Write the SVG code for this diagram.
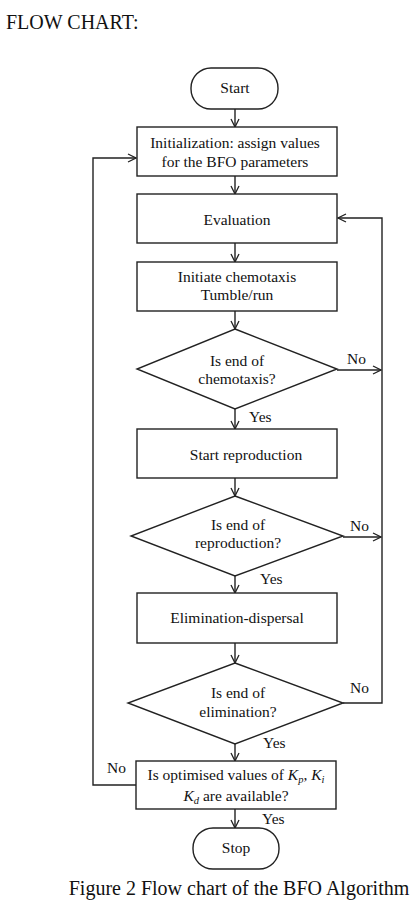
<svg xmlns="http://www.w3.org/2000/svg" width="419" height="910" viewBox="0 0 419 910">
<style>
.n{fill:#fff;stroke:#222;stroke-width:1.4}
.t{font-family:"Liberation Serif",serif;font-size:15.5px;fill:#111;text-anchor:middle}
.l{font-family:"Liberation Serif",serif;font-size:15.5px;fill:#111}
.c{fill:none;stroke:#222;stroke-width:1.4}
</style>
<defs>
<marker id="a" markerWidth="10" markerHeight="10" refX="9" refY="5" orient="auto" markerUnits="userSpaceOnUse">
<path d="M1,1 L9,5 L1,9" fill="none" stroke="#222" stroke-width="1.3"/>
</marker>
</defs>
<rect width="419" height="910" fill="#fff"/>
<text x="6" y="29" style="font-family:'Liberation Serif',serif;font-size:20px;fill:#111">FLOW CHART:</text>
<g id="connectors">
<line class="c" x1="235" y1="109" x2="235" y2="127" marker-end="url(#a)"/>
<line class="c" x1="235" y1="176" x2="235" y2="194" marker-end="url(#a)"/>
<line class="c" x1="235" y1="243" x2="235" y2="262" marker-end="url(#a)"/>
<line class="c" x1="235" y1="311" x2="235" y2="329" marker-end="url(#a)"/>
<line class="c" x1="235" y1="409" x2="235" y2="429" marker-end="url(#a)"/>
<line class="c" x1="235" y1="478" x2="235" y2="496" marker-end="url(#a)"/>
<line class="c" x1="235" y1="576" x2="235" y2="593" marker-end="url(#a)"/>
<line class="c" x1="235" y1="643" x2="235" y2="663" marker-end="url(#a)"/>
<line class="c" x1="235" y1="744" x2="235" y2="761" marker-end="url(#a)"/>
<line class="c" x1="235" y1="809" x2="235" y2="828" marker-end="url(#a)"/>
<line class="c" x1="337" y1="370" x2="381" y2="370" marker-end="url(#a)"/>
<line class="c" x1="343" y1="537" x2="381" y2="537" marker-end="url(#a)"/>
<polyline class="c" points="343,703 382,703 382,218 338,218" marker-end="url(#a)"/>
<polyline class="c" points="136,785 93,785 93,158 136,158" marker-end="url(#a)"/>
<text class="l" x="347" y="364">No</text>
<text class="l" x="350" y="531">No</text>
<text class="l" x="350" y="693">No</text>
<text class="l" x="107" y="773">No</text>
<text class="l" x="249" y="422">Yes</text>
<text class="l" x="260" y="584">Yes</text>
<text class="l" x="263" y="748">Yes</text>
<text class="l" x="262" y="824">Yes</text>
</g>
<g id="start"><rect class="n" x="191" y="68" width="87" height="41" rx="20"/><text class="t" x="235" y="93">Start</text></g>
<g id="init"><rect class="n" x="137" y="127" width="200" height="49"/><text class="t" x="235" y="148">Initialization: assign values</text><text class="t" x="235" y="167">for the BFO parameters</text></g>
<g id="eval"><rect class="n" x="137" y="194" width="200" height="49"/><text class="t" x="237" y="225">Evaluation</text></g>
<g id="chemo"><rect class="n" x="137" y="262" width="200" height="49"/><text class="t" x="237" y="282">Initiate chemotaxis</text><text class="t" x="237" y="300">Tumble/run</text></g>
<g id="d1"><polygon class="n" points="235,329 337,369 235,409 137,369"/><text class="t" x="237" y="366">Is end of</text><text class="t" x="237" y="384">chemotaxis?</text></g>
<g id="repro"><rect class="n" x="137" y="429" width="200" height="49"/><text class="t" x="246" y="460">Start reproduction</text></g>
<g id="d2"><polygon class="n" points="235,496 343,536 235,576 131,536"/><text class="t" x="238" y="530">Is end of</text><text class="t" x="238" y="548">reproduction?</text></g>
<g id="elim"><rect class="n" x="137" y="593" width="200" height="50"/><text class="t" x="237" y="623">Elimination-dispersal</text></g>
<g id="d3"><polygon class="n" points="235,663 343,703 235,744 128,703"/><text class="t" x="238" y="698">Is end of</text><text class="t" x="238" y="717">elimination?</text></g>
<g id="check"><rect class="n" x="136" y="761" width="200" height="48"/>
<text class="t" x="236" y="780">Is optimised values of <tspan font-style="italic">K</tspan><tspan font-style="italic" font-size="10.5px" dy="3">p</tspan><tspan dy="-3">, </tspan><tspan font-style="italic">K</tspan><tspan font-style="italic" font-size="10.5px" dy="3">i</tspan></text>
<text class="t" x="236" y="801"><tspan font-style="italic">K</tspan><tspan font-style="italic" font-size="10.5px" dy="3">d</tspan><tspan dy="-3"> are available?</tspan></text></g>
<g id="stop"><rect class="n" x="193" y="828" width="86" height="41" rx="20"/><text class="t" x="236" y="853">Stop</text></g>
<text x="239" y="895" style="font-family:'Liberation Serif',serif;font-size:20px;fill:#111;text-anchor:middle">Figure 2 Flow chart of the BFO Algorithm</text>
</svg>
